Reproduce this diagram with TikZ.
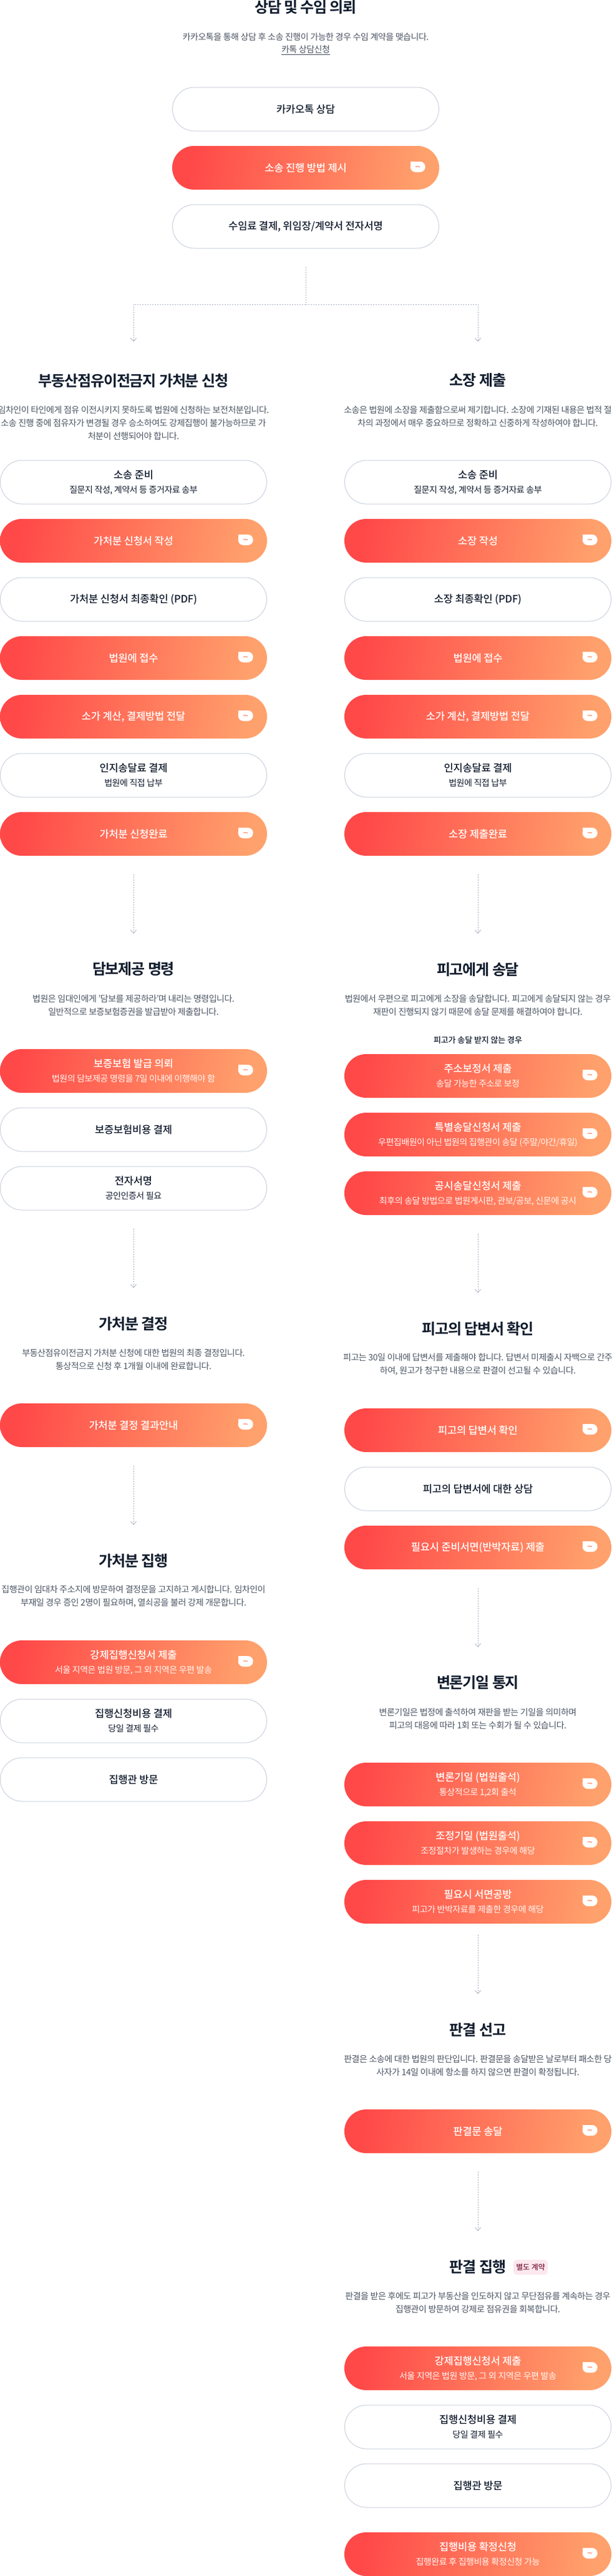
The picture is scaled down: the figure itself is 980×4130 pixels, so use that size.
\documentclass[tikz,border=0pt]{standalone}
\usepackage{fontspec}
\setmainfont[LetterSpace=-3.5]{Noto Sans CJK KR}
\newfontfamily\medfont[LetterSpace=-1]{Noto Sans CJK KR Medium}
\newfontfamily\boldfont[LetterSpace=-5]{Noto Sans CJK KR Bold}
\usetikzlibrary{arrows.meta,calc}
\definecolor{inkdark}{HTML}{111C2D}
\definecolor{inkgray}{HTML}{4B5563}
\definecolor{edgegray}{HTML}{CBD2DE}
\definecolor{flowgray}{HTML}{A9B2C2}
\definecolor{gradL}{HTML}{FF4848}
\definecolor{gradM}{HTML}{FF6F56}
\definecolor{gradR}{HTML}{FFA16C}
\definecolor{badgebg}{HTML}{FCE8EE}
\definecolor{badgefg}{HTML}{7A1F3D}
\tikzset{
  x=1pt,y=-1pt,
  pill/.style={minimum width=#1,minimum height=70pt,rounded corners=34.9pt,inner sep=0pt,outer sep=0pt,align=center,font=\fontsize{16}{23}\selectfont},
  pill/.default=428pt,
  plain/.style={pill=#1,draw=edgegray,line width=1pt,fill=white,text=inkdark},
  plain/.default=427pt,
  hot/.style={pill=#1,left color=gradL,middle color=gradM,right color=gradR,shading angle=80,text=white},
  hot/.default=428pt,
  headline/.style={font=\boldfont\fontsize{24}{28}\selectfont,text=inkdark,minimum height=34pt,inner sep=0pt},
  para/.style={font=\fontsize{14}{21}\selectfont,text=inkgray,align=center,inner sep=0pt},
  flow/.style={draw=flowgray,line width=1pt,dash pattern=on 2pt off 2pt,-{Straight Barb[width=9pt,length=5pt,line width=.8pt]}},
  stem/.style={draw=flowgray,line width=1pt,dash pattern=on 2pt off 2pt},
}
\newcommand{\boxtitle}[1]{{\medfont\fontsize{16.5}{23}\selectfont #1}}
\newcommand{\boxsub}[1]{{\fontsize{14}{23}\selectfont #1}}
% icon on hot boxes: leaf bubble with one square corner
\newcommand{\bubble}[1]{%
  \fill[white,rounded corners=8.4pt] ($(#1.east)+(-46.3,-10)$) rectangle ($(#1.east)+(-22.3,7)$);
  \fill[white] ($(#1.east)+(-46.3,-10)$) rectangle ($(#1.east)+(-36,-1)$);
  \draw[gradM!60!gradR,line width=1.2pt] ($(#1.east)+(-38,-2)$) .. controls ($(#1.east)+(-36,-2.4)$) and ($(#1.east)+(-33,-2.2)$) .. ($(#1.east)+(-31,-1.6)$);
}
\newcommand{\whot}[5]{\node[hot=428pt] (#1) at (#2,#3) {#4\ifx\relax#5\relax\else\\\color{white!92!gradR}#5\fi}; \bubble{#1}}
\begin{document}
\begin{tikzpicture}
\useasboundingbox (0,0) rectangle (980,4130);
\fill[white] (0,0) rectangle (980,4130);
% intro
\node[headline] (tIntro) at (490,12) {상담 및 수임 의뢰};
\node[para] (pIntro) at (490,59) {카카오톡을 통해 상담 후 소송 진행이 가능한 경우 수임 계약을 맺습니다.};
\node[para,inner ysep=1.5pt] (lIntro) at (490,80) {\underline{카톡 상담신청}};
\node[plain] (b1) at (490,175) {\boxtitle{카카오톡 상담}};
\whot{b2}{490}{269}{\boxtitle{소송 진행 방법 제시}}{}
\node[plain] (b3) at (490,363) {\boxtitle{수임료 결제, 위임장/계약서 전자서명}};
% left column
\node[headline] (tA1) at (214,610) {부동산점유이전금지 가처분 신청};
\node[para] (pA1) at (214,678) {임차인이 타인에게 점유 이전시키지 못하도록 법원에 신청하는 보전처분입니다.\\소송 진행 중에 점유자가 변경될 경우 승소하여도 강제집행이 불가능하므로 가\\처분이 선행되어야 합니다.};
\node[plain] (a1) at (214,773) {\boxtitle{소송 준비}\\\boxsub{질문지 작성, 계약서 등 증거자료 송부}};
\whot{a2}{214}{867}{\boxtitle{가처분 신청서 작성}}{}
\node[plain] (a3) at (214,961) {\boxtitle{가처분 신청서 최종확인 (PDF)}};
\whot{a4}{214}{1055}{\boxtitle{법원에 접수}}{}
\whot{a5}{214}{1149}{\boxtitle{소가 계산, 결제방법 전달}}{}
\node[plain] (a6) at (214,1243) {\boxtitle{인지송달료 결제}\\\boxsub{법원에 직접 납부}};
\whot{a7}{214}{1337}{\boxtitle{가처분 신청완료}}{}
\node[headline] (tA2) at (214,1554) {담보제공 명령};
\node[para] (pA2) at (214,1611.5) {법원은 임대인에게 '담보를 제공하라'며 내리는 명령입니다.\\일반적으로 보증보험증권을 발급받아 제출합니다.};
\whot{a8}{214}{1717}{\boxtitle{보증보험 발급 의뢰}}{\boxsub{법원의 담보제공 명령을 7일 이내에 이행해야 함}}
\node[plain] (a9) at (214,1811) {\boxtitle{보증보험비용 결제}};
\node[plain] (a10) at (214,1905) {\boxtitle{전자서명}\\\boxsub{공인인증서 필요}};
\node[headline] (tA3) at (214,2122) {가처분 결정};
\node[para] (pA3) at (214,2179.5) {부동산점유이전금지 가처분 신청에 대한 법원의 최종 결정입니다.\\통상적으로 신청 후 1개월 이내에 완료합니다.};
\whot{a11}{214}{2285}{\boxtitle{가처분 결정 결과안내}}{}
\node[headline] (tA4) at (214,2502) {가처분 집행};
\node[para] (pA4) at (214,2559.5) {집행관이 임대차 주소지에 방문하여 결정문을 고지하고 게시합니다. 임차인이\\부재일 경우 증인 2명이 필요하며, 열쇠공을 불러 강제 개문합니다.};
\whot{a12}{214}{2665}{\boxtitle{강제집행신청서 제출}}{\boxsub{서울 지역은 법원 방문, 그 외 지역은 우편 발송}}
\node[plain] (a13) at (214,2759) {\boxtitle{집행신청비용 결제}\\\boxsub{당일 결제 필수}};
\node[plain] (a14) at (214,2853) {\boxtitle{집행관 방문}};
% right column
\node[headline] (tB1) at (766,610) {소장 제출};
\node[para] (pB1) at (766,667.5) {소송은 법원에 소장을 제출함으로써 제기합니다. 소장에 기재된 내용은 법적 절\\차의 과정에서 매우 중요하므로 정확하고 신중하게 작성하여야 합니다.};
\node[plain] (c1) at (766,773) {\boxtitle{소송 준비}\\\boxsub{질문지 작성, 계약서 등 증거자료 송부}};
\whot{c2}{766}{867}{\boxtitle{소장 작성}}{}
\node[plain] (c3) at (766,961) {\boxtitle{소장 최종확인 (PDF)}};
\whot{c4}{766}{1055}{\boxtitle{법원에 접수}}{}
\whot{c5}{766}{1149}{\boxtitle{소가 계산, 결제방법 전달}}{}
\node[plain] (c6) at (766,1243) {\boxtitle{인지송달료 결제}\\\boxsub{법원에 직접 납부}};
\whot{c7}{766}{1337}{\boxtitle{소장 제출완료}}{}
\node[headline] (tB2) at (766,1554) {피고에게 송달};
\node[para] (pB2) at (766,1611.5) {법원에서 우편으로 피고에게 소장을 송달합니다. 피고에게 송달되지 않는 경우\\재판이 진행되지 않기 때문에 송달 문제를 해결하여야 합니다.};
\node[font=\medfont\fontsize{13}{16}\selectfont,text=inkdark,inner sep=0pt] (sB2) at (766,1668) {피고가 송달 받지 않는 경우};
\whot{c8}{766}{1725}{\boxtitle{주소보정서 제출}}{\boxsub{송달 가능한 주소로 보정}}
\whot{c9}{766}{1819}{\boxtitle{특별송달신청서 제출}}{\boxsub{우편집배원이 아닌 법원의 집행관이 송달 (주말/야간/휴일)}}
\whot{c10}{766}{1913}{\boxtitle{공시송달신청서 제출}}{\boxsub{최후의 송달 방법으로 법원게시판, 관보/공보, 신문에 공시}}
\node[headline] (tB3) at (766,2130) {피고의 답변서 확인};
\node[para] (pB3) at (766,2187.5) {피고는 30일 이내에 답변서를 제출해야 합니다. 답변서 미제출시 자백으로 간주\\하여, 원고가 청구한 내용으로 판결이 선고될 수 있습니다.};
\whot{c11}{766}{2293}{\boxtitle{피고의 답변서 확인}}{}
\node[plain] (c12) at (766,2387) {\boxtitle{피고의 답변서에 대한 상담}};
\whot{c13}{766}{2481}{\boxtitle{필요시 준비서면(반박자료) 제출}}{}
\node[headline] (tB4) at (766,2698) {변론기일 통지};
\node[para] (pB4) at (766,2755.5) {변론기일은 법정에 출석하여 재판을 받는 기일을 의미하며\\피고의 대응에 따라 1회 또는 수회가 될 수 있습니다.};
\whot{c14}{766}{2861}{\boxtitle{변론기일 (법원출석)}}{\boxsub{통상적으로 1,2회 출석}}
\whot{c15}{766}{2955}{\boxtitle{조정기일 (법원출석)}}{\boxsub{조정절차가 발생하는 경우에 해당}}
\whot{c16}{766}{3049}{\boxtitle{필요시 서면공방}}{\boxsub{피고가 반박자료를 제출한 경우에 해당}}
\node[headline] (tB5) at (766,3254) {판결 선고};
\node[para] (pB5) at (766,3311.5) {판결은 소송에 대한 법원의 판단입니다. 판결문을 송달받은 날로부터 패소한 당\\사자가 14일 이내에 항소를 하지 않으면 판결이 확정됩니다.};
\whot{c17}{766}{3417}{\boxtitle{판결문 송달}}{}
\node[headline] (tB6) at (766,3634) {판결 집행};
\node[fill=badgebg,text=badgefg,rounded corners=5pt,minimum width=55pt,minimum height=24pt,inner sep=0pt,font=\medfont\fontsize{12}{14}\selectfont] (badge) at (850.5,3635) {별도 계약};
\node[para] (pB6) at (766,3691.5) {판결을 받은 후에도 피고가 부동산을 인도하지 않고 무단점유를 계속하는 경우\\집행관이 방문하여 강제로 점유권을 회복합니다.};
\whot{c18}{766}{3797}{\boxtitle{강제집행신청서 제출}}{\boxsub{서울 지역은 법원 방문, 그 외 지역은 우편 발송}}
\node[plain] (c19) at (766,3891) {\boxtitle{집행신청비용 결제}\\\boxsub{당일 결제 필수}};
\node[plain] (c20) at (766,3985) {\boxtitle{집행관 방문}};
\whot{c21}{766}{4095}{\boxtitle{집행비용 확정신청}}{\boxsub{집행완료 후 집행비용 확정신청 가능}}
% connectors
\coordinate (split) at (490,488);
\draw[stem,shorten <=29.5pt] (b3.south) -- (split);
\draw[flow,shorten >=45pt] (split) -| (tA1.north);
\draw[flow,shorten >=45pt] (split) -| (tB1.north);
\draw[flow,shorten <=30pt,shorten >=40pt] (a7.south) -- (tA2.north);
\draw[flow,shorten <=30pt,shorten >=40pt] (c7.south) -- (tB2.north);
\draw[flow,shorten <=30pt,shorten >=40pt] (a10.south) -- (tA3.north);
\draw[flow,shorten <=30pt,shorten >=40pt] (c10.south) -- (tB3.north);
\draw[flow,shorten <=30pt,shorten >=40pt] (a11.south) -- (tA4.north);
\draw[flow,shorten <=30pt,shorten >=40pt] (c13.south) -- (tB4.north);
\draw[flow,shorten <=18pt,shorten >=40pt] (c16.south) -- (tB5.north);
\draw[flow,shorten <=30pt,shorten >=40pt] (c17.south) -- (tB6.north);
\end{tikzpicture}
\end{document}
